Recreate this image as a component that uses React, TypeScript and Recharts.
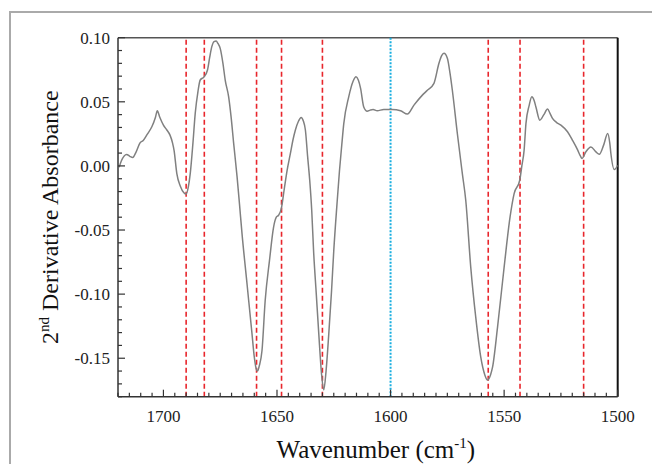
import { Label, Line, LineChart, ReferenceLine, XAxis, YAxis } from 'recharts';

// wavenumber (cm-1), read left to right
const wavenumbers = [
  1719.5, 1718.5, 1716.2, 1714.8, 1713.5, 1712, 1710.3, 1708.8, 1707, 1705.1,
  1703.5, 1702.7, 1701.6, 1700, 1698.5, 1697.1, 1696, 1695.3, 1694.1, 1692.5,
  1691, 1690, 1689, 1688.2, 1687, 1686, 1684.8, 1683.8, 1682.1, 1680.6,
  1679.6, 1678.7, 1677.7, 1676.8, 1676, 1675, 1673.8, 1672.8, 1671.3, 1670.2,
  1669.1, 1667.6, 1666.5, 1665.4, 1663.2, 1661, 1660, 1659.2, 1658.6, 1657.8,
  1656.6, 1655.2, 1653.3, 1651.5, 1650.3, 1649.3, 1648.1, 1646.8, 1645.6, 1644.1,
  1643, 1641.9, 1640.5, 1639.4, 1638.4, 1637.5, 1636.5, 1635.6, 1634.7, 1633.9,
  1632.7, 1631.6, 1630.4, 1629.4, 1628.4, 1627.2, 1626, 1625, 1623.6, 1622.5,
  1621.5, 1620.6, 1618.4, 1616.5, 1615.2, 1614.2, 1613.2, 1611.8, 1610.3, 1609,
  1607.7, 1605.9, 1603, 1599.3, 1595.6, 1592.6, 1589.7, 1586, 1583.8, 1580.9,
  1578.7, 1577.5, 1576.5, 1575, 1573.8, 1572.8, 1570.6, 1568.4, 1566.9, 1564.7,
  1562.5, 1560.3, 1558.5, 1557.3, 1556, 1555.1, 1552.9, 1550, 1547.4, 1545.6,
  1543.1, 1542.2, 1541.2, 1540.4, 1539, 1537.8, 1536.8, 1536, 1534.3, 1532.5,
  1530.9, 1529.8, 1528.7, 1527, 1525, 1522.1, 1519.9, 1517.6, 1516.5, 1515.7,
  1514, 1511.8, 1509.6, 1508.1, 1506.2, 1504.4, 1503.5, 1503, 1501.5, 1500,
];

// 2nd derivative absorbance
const absorbance = [
  -0.001, 0.004, 0.009, 0.0075, 0.0066, 0.011, 0.018, 0.02, 0.025, 0.0305,
  0.038, 0.043, 0.038, 0.0318, 0.028, 0.024, 0.018, 0.012, -0.006, -0.016,
  -0.021, -0.022, -0.016, -0.006, 0.018, 0.041, 0.058, 0.067, 0.0695, 0.0748,
  0.085, 0.093, 0.097, 0.0974, 0.0955, 0.0917, 0.08, 0.067, 0.054, 0.038,
  0.018, -0.008, -0.03, -0.0528, -0.0919, -0.131, -0.149, -0.158, -0.16, -0.156,
  -0.144, -0.105, -0.0737, -0.0477, -0.04, -0.0385, -0.0333, -0.018, -0.004, 0.0097,
  0.02, 0.028, 0.035, 0.0378, 0.035, 0.028, 0.007, -0.011, -0.035, -0.066,
  -0.1, -0.131, -0.162, -0.1747, -0.16, -0.131, -0.098, -0.066, -0.03, -0.004,
  0.016, 0.033, 0.054, 0.066, 0.0695, 0.067, 0.0605, 0.046, 0.0427, 0.0435,
  0.044, 0.043, 0.044, 0.044, 0.043, 0.0404, 0.0474, 0.0552, 0.059, 0.0644,
  0.08, 0.086, 0.0878, 0.084, 0.072, 0.059, 0.0253, -0.006, -0.0268, -0.0789,
  -0.118, -0.149, -0.163, -0.1669, -0.163, -0.157, -0.1258, -0.0789, -0.04, -0.0216,
  -0.011, 0, 0.0123, 0.033, 0.047, 0.0539, 0.051, 0.046, 0.0357, 0.04,
  0.0443, 0.041, 0.037, 0.034, 0.0318, 0.0266, 0.02, 0.0123, 0.008, 0.0058,
  0.011, 0.0148, 0.011, 0.0091, 0.0162, 0.0253, 0.018, 0.0097, -0.0028, 0.0005,
];

const bandLines = [1690, 1682, 1659, 1648, 1630, 1557, 1543, 1515];
const centerLine = 1600;

const xDomain = [1500, 1720];
const yDomain = [-0.18, 0.1];
const xMajorTicks = [1700, 1650, 1600, 1550, 1500];
const yMajorTicks = [0.1, 0.05, 0, -0.05, -0.1, -0.15];
// minor ticks every 5 cm-1 and every 0.01
const xTicks = Array.from({ length: 45 }, (_, i) => 1500 + i * 5);
const yTicks = Array.from({ length: 29 }, (_, i) => Math.round((-0.18 + i * 0.01) * 100) / 100);

const data = wavenumbers.map((wn, i) => ({ wn, value: absorbance[i] }));

const FONT = '"Liberation Serif", "DejaVu Serif", serif';
const AXIS = '#333';

function XTick({ x, y, payload }: any) {
  const v = payload.value;
  const major = xMajorTicks.includes(v);
  return (
    <g>
      <line x1={x} x2={x} y1={y} y2={y - (major ? 7 : 4)} stroke={AXIS} strokeWidth={1.2} />
      {major && (
        <text x={x} y={y + 25} textAnchor="middle" fontSize={17} fontFamily={FONT} fill="#222">
          {v}
        </text>
      )}
    </g>
  );
}

function YTick({ x, y, payload }: any) {
  const v = payload.value;
  const major = yMajorTicks.some((m) => Math.abs(m - v) < 1e-6);
  return (
    <g>
      <line x1={x} x2={x + (major ? 7 : 4)} y1={y} y2={y} stroke={AXIS} strokeWidth={1.2} />
      {major && (
        <text x={x - 8} y={y} dy="0.35em" textAnchor="end" fontSize={17} fontFamily={FONT} fill="#222">
          {v.toFixed(2)}
        </text>
      )}
    </g>
  );
}

function XTitle({ viewBox }: any) {
  const cx = viewBox.x + viewBox.width / 2 + 8;
  return (
    <text x={cx} y={viewBox.y + 61} textAnchor="middle" fontSize={25} fontFamily={FONT} fill="#111">
      Wavenumber (cm
      <tspan dy={-10} fontSize={15}>-1</tspan>
      <tspan dy={10}>)</tspan>
    </text>
  );
}

function YTitle({ viewBox }: any) {
  const cx = 50;
  const cy = viewBox.y + viewBox.height / 2;
  return (
    <text
      x={cx}
      y={cy}
      transform={`rotate(-90 ${cx} ${cy})`}
      textAnchor="middle"
      dy="0.35em"
      fontSize={24}
      fontFamily={FONT}
      fill="#111"
    >
      2<tspan dy={-9} fontSize={15}>nd</tspan>
      <tspan dy={9}> Derivative Absorbance</tspan>
    </text>
  );
}

export default function App() {
  return (
    <div style={{ position: 'absolute', left: 0, top: 0, width: 652, height: 464, background: '#fff', overflow: 'hidden' }}>
      <div
        style={{
          position: 'absolute',
          left: 9,
          top: 11,
          width: 700,
          height: 500,
          borderTop: '2px solid #aaa',
          borderLeft: '2px solid #aaa',
        }}
      />
      <div style={{ position: 'absolute', left: 0, top: 0 }}>
        <LineChart width={652} height={464} data={data} margin={{ top: 37.7, right: 34.3, left: 58, bottom: 27.3 }}>
          <XAxis
            dataKey="wn"
            type="number"
            domain={xDomain}
            reversed
            ticks={xTicks}
            interval={0}
            tick={<XTick />}
            tickLine={false}
            tickSize={0}
            tickMargin={0}
            height={40}
            axisLine={{ stroke: AXIS, strokeWidth: 1.5 }}
            allowDataOverflow
          >
            <Label content={<XTitle />} />
          </XAxis>
          <YAxis
            type="number"
            domain={yDomain}
            ticks={yTicks}
            interval={0}
            tick={<YTick />}
            tickLine={false}
            tickSize={0}
            tickMargin={0}
            width={60}
            axisLine={{ stroke: AXIS, strokeWidth: 1.5 }}
            allowDataOverflow
          >
            <Label content={<YTitle />} />
          </YAxis>
          {/* frame: top and right edges */}
          <ReferenceLine y={yDomain[1]} stroke="#555" strokeWidth={1.5} />
          <ReferenceLine x={xDomain[0]} stroke="#111" strokeWidth={2} />
          {bandLines.map((wn) => (
            <ReferenceLine key={wn} x={wn} stroke="#e8262c" strokeWidth={1.6} strokeDasharray="5 3" />
          ))}
          <ReferenceLine x={centerLine} stroke="#19aee0" strokeWidth={2} strokeDasharray="2 1.5" />
          <Line
            type="monotone"
            dataKey="value"
            stroke="#808080"
            strokeWidth={1.5}
            dot={false}
            isAnimationActive={false}
          />
        </LineChart>
      </div>
    </div>
  );
}
